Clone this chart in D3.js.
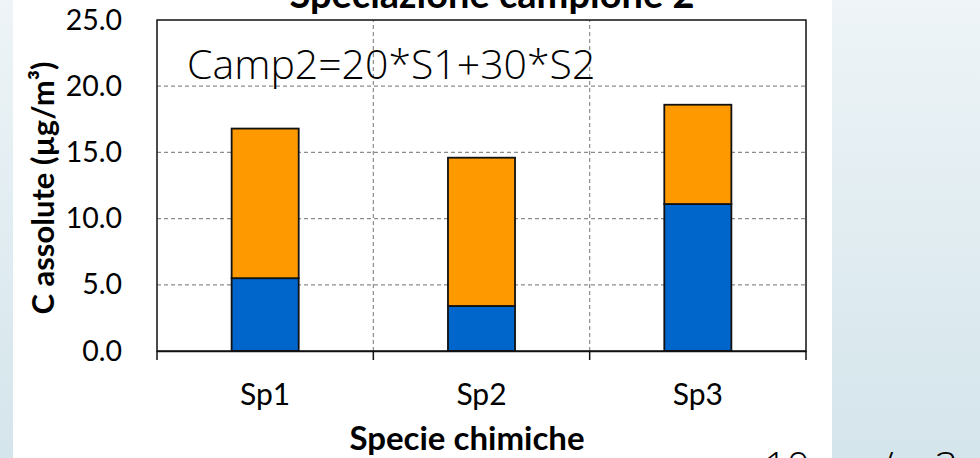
<!DOCTYPE html>
<html>
<head>
<meta charset="utf-8">
<script src="https://cdn.jsdelivr.net/npm/d3@7"></script>
<style>
  html, body { margin: 0; padding: 0; }
  body { width: 980px; height: 458px; overflow: hidden; }
  svg { display: block; font-family: Lato, "Open Sans", sans-serif; }
</style>
</head>
<body>
<svg id="chart" width="980" height="458"></svg>
<script>
// Species and the two stacked contributions (µg/m³)
const categories = ["Sp1", "Sp2", "Sp3"];
const seriesS1 = [5.5, 3.4, 11.1];   // blue, lower segment
const seriesS2 = [11.3, 11.2, 7.5];  // orange, upper segment
const yTicks = [0, 5, 10, 15, 20, 25];
const seriesColors = ["#0066cc", "#ff9900"];

const title = "Speciazione campione 2";
const formula = "Camp2=20*S1+30*S2";
const yTitle = "C assolute (µg/m³)";
const xTitle = "Specie chimiche";

const W = 980, H = 458;
const margin = { left: 157, top: 20, right: 980 - 806, bottom: 458 - 351 };
const svg = d3.select("#chart");

// Slide background: bluish gradient with a white panel behind the chart
const defs = svg.append("defs");
const grad = defs.append("linearGradient").attr("id", "bg").attr("x1", 0).attr("y1", 0).attr("x2", 0).attr("y2", 1);
grad.append("stop").attr("offset", "0%").attr("stop-color", "#eef4f7");
grad.append("stop").attr("offset", "100%").attr("stop-color", "#d4e5eb");
svg.append("rect").attr("width", W).attr("height", H).attr("fill", "url(#bg)");
svg.append("rect").attr("x", 13).attr("y", 0).attr("width", 832 - 13).attr("height", H).attr("fill", "#ffffff");

const x = d3.scaleBand().domain(categories).range([margin.left, W - margin.right]).paddingInner(0).paddingOuter(0);
const y = d3.scaleLinear().domain([0, 25]).range([H - margin.bottom, margin.top]);

const stackData = categories.map((c, i) => ({ cat: c, S1: seriesS1[i], S2: seriesS2[i] }));
const stacked = d3.stack().keys(["S1", "S2"])(stackData);

// Horizontal dashed gridlines
svg.append("g").selectAll("line").data(yTicks.slice(1, -1)).join("line")
  .attr("x1", margin.left).attr("x2", W - margin.right)
  .attr("y1", d => y(d)).attr("y2", d => y(d))
  .attr("stroke", "#8c8c8c").attr("stroke-width", 1.2).attr("stroke-dasharray", "4,3");

// Vertical dashed gridlines at category boundaries
svg.append("g").selectAll("line").data(categories.slice(1)).join("line")
  .attr("x1", d => x(d)).attr("x2", d => x(d))
  .attr("y1", y(0)).attr("y2", y(25))
  .attr("stroke", "#8c8c8c").attr("stroke-width", 1.2).attr("stroke-dasharray", "4,3");

// Stacked bars
const barW = x.bandwidth() * 0.31;
svg.append("g").selectAll("g").data(stacked).join("g")
  .attr("fill", (d, i) => seriesColors[i])
  .selectAll("rect").data(d => d).join("rect")
  .attr("x", d => x(d.data.cat) + (x.bandwidth() - barW) / 2)
  .attr("width", barW)
  .attr("y", d => y(d[1]))
  .attr("height", d => y(d[0]) - y(d[1]))
  .attr("stroke", "#111").attr("stroke-width", 1.8);

// Plot frame
svg.append("rect")
  .attr("x", margin.left).attr("y", margin.top)
  .attr("width", W - margin.right - margin.left).attr("height", y(0) - y(25))
  .attr("fill", "none").attr("stroke", "#111").attr("stroke-width", 1.5);

// Y axis
const yAxis = svg.append("g").attr("transform", `translate(${margin.left},0)`)
  .call(d3.axisLeft(y).tickValues(yTicks).tickFormat(d3.format(".1f")).tickSize(0).tickPadding(35));
yAxis.select(".domain").remove();
yAxis.selectAll("text").attr("font-size", 28.5).attr("fill", "#000").attr("font-family", "Lato, sans-serif");

// X axis with ticks at category boundaries
const xAxis = svg.append("g").attr("transform", `translate(0,${y(0)})`)
  .call(d3.axisBottom(x).tickSize(0).tickPadding(33));
xAxis.select(".domain").attr("stroke", "#111").attr("stroke-width", 1.5);
xAxis.selectAll("text").attr("font-size", 30).attr("fill", "#000").attr("font-family", "Lato, sans-serif");
const bounds = categories.map(c => x(c)).concat([x(categories[categories.length - 1]) + x.bandwidth()]);
svg.append("g").selectAll("line").data(bounds).join("line")
  .attr("x1", d => d).attr("x2", d => d)
  .attr("y1", y(0)).attr("y2", y(0) + 9)
  .attr("stroke", "#111").attr("stroke-width", 1.5);

// Titles
svg.append("text").attr("x", 492).attr("y", 8).attr("text-anchor", "middle")
  .attr("font-size", 38).attr("font-weight", 700).text(title);
svg.append("text").attr("transform", `translate(54,${188}) rotate(-90)`).attr("text-anchor", "middle")
  .attr("font-size", 31).attr("font-weight", 700).text(yTitle);
svg.append("text").attr("x", 467).attr("y", 450).attr("text-anchor", "middle")
  .attr("font-size", 33).attr("font-weight", 700).text(xTitle);

// Mixing formula inside the plot
svg.append("text").attr("x", 187).attr("y", 79)
  .attr("font-family", "'Open Sans', sans-serif").attr("font-weight", 300)
  .attr("font-size", 41).attr("fill", "#000").text(formula);

// Concentration note running off the bottom edge
const note = svg.append("text").attr("y", 481).attr("font-size", 40).attr("fill", "#000")
  .attr("font-family", "'Open Sans', sans-serif").attr("font-weight", 300);
note.append("tspan").attr("x", 764).text("10 µg");
note.append("tspan").attr("x", 880).text("/m");
note.append("tspan").attr("x", 935).text("3");
</script>
</body>
</html>
